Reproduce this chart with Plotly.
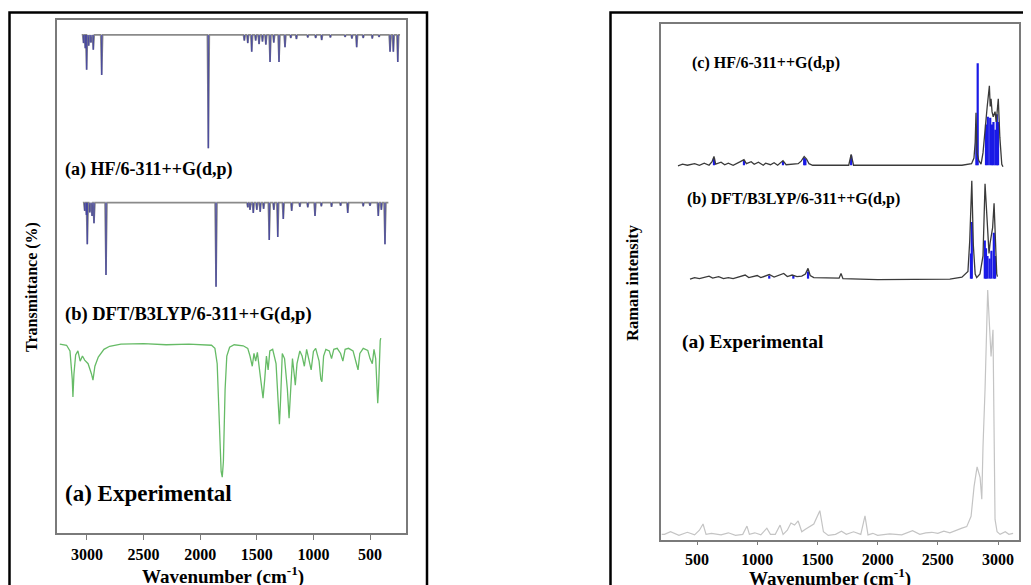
import plotly.graph_objects as go

# ---------------- Data ----------------
# Wavenumber ticks shared by both panels
tick_vals = [500, 1000, 1500, 2000, 2500, 3000]
tick_text = ["500", "1000", "1500", "2000", "2500", "3000"]

# ---- FT-IR panel (left), stacked transmittance units ----
# (a) HF/6-311++G(d,p) calculated IR: band positions and dip minima
ir_hf_freq = [3030, 3015, 3003, 2985, 2965, 2944, 2870, 1928, 1610, 1580, 1545, 1510,
              1480, 1450, 1420, 1383, 1350, 1304, 1251, 1200, 1150, 1050, 980, 927,
              850, 720, 660, 618, 560, 480, 420, 323, 294, 255]
ir_hf_tip = [95.5, 94.5, 90.3, 95.0, 95.6, 94.2, 89.3, 75.0, 96.0, 95.5, 93.8, 96.0,
             95.3, 95.8, 95.2, 91.8, 95.6, 91.8, 94.7, 96.5, 96.3, 96.6, 96.5, 96.1,
             96.6, 96.7, 96.4, 94.7, 96.5, 96.4, 96.7, 93.8, 93.8, 91.8]
ir_hf_base = 97.1
ir_hf_span = [3033, 235]

# (b) DFT/B3LYP/6-311++G(d,p) calculated IR
ir_dft_freq = [3020, 3005, 2997, 2975, 2955, 2938, 2832, 1860, 1580, 1560, 1531, 1500,
               1470, 1440, 1390, 1350, 1315, 1266, 1192, 1120, 1050, 986, 930, 840,
               760, 697, 560, 500, 427, 400, 368]
ir_dft_tip = [62.8, 62.0, 56.3, 62.5, 61.8, 60.4, 50.3, 48.0, 63.5, 63.0, 62.4, 63.0,
              62.6, 63.2, 57.1, 63.0, 57.7, 61.2, 62.8, 63.6, 63.5, 61.8, 63.7, 63.6,
              63.8, 62.4, 63.7, 63.8, 61.8, 63.0, 56.3]
ir_dft_base = 64.4
ir_dft_span = [3024, 338]

# (a) Experimental FT-IR
ir_exp_w = [3240, 3180, 3150, 3130, 3124, 3115, 3100, 3080, 3060, 3040, 3020, 2990,
            2960, 2947, 2930, 2900, 2850, 2800, 2700, 2500, 2300, 2100, 1900, 1870,
            1850, 1830, 1815, 1805, 1795, 1780, 1765, 1740, 1700, 1620, 1580, 1560,
            1540, 1525, 1510, 1495, 1470, 1455, 1445, 1430, 1415, 1400, 1385, 1360,
            1330, 1310, 1300, 1290, 1275, 1255, 1230, 1215, 1200, 1185, 1170, 1160,
            1145, 1120, 1100, 1080, 1060, 1040, 1020, 1000, 980, 950, 935, 925, 910,
            890, 860, 840, 820, 790, 760, 740, 720, 690, 650, 620, 606, 590, 560,
            520, 500, 480, 465, 450, 440, 432, 425, 418, 410, 405]
ir_exp_t = [36.8, 36.6, 35.5, 30.0, 26.5, 31.0, 34.7, 35.5, 33.5, 34.5, 33.7, 33.0,
            31.0, 29.8, 32.5, 34.3, 35.8, 36.4, 36.8, 36.9, 36.7, 36.8, 36.6, 36.0,
            33.0, 22.0, 12.0, 10.9, 14.0, 28.0, 34.5, 36.2, 36.7, 36.5, 36.0, 34.5,
            32.5, 35.0, 33.5, 35.2, 31.0, 28.0, 26.3, 30.0, 34.5, 31.8, 35.5, 35.8,
            33.0, 25.0, 21.2, 26.0, 35.0, 34.0, 28.0, 22.4, 28.0, 34.0, 31.0, 28.8,
            33.0, 35.5, 34.5, 32.5, 35.8, 34.0, 31.8, 35.4, 36.0, 33.5, 30.0, 29.5,
            34.5, 35.8, 35.5, 34.0, 35.8, 36.0, 35.0, 33.5, 35.8, 36.0, 35.5, 33.0,
            31.8, 35.0, 36.0, 35.6, 34.0, 33.0, 35.8, 34.0, 28.0, 25.3, 28.0, 35.5,
            37.5, 38.0]

# ---- FT-Raman panel (right), stacked intensity units ----
# (c) HF/6-311++G(d,p) calculated Raman: envelope and bands
ram_hf_env_w = [342, 380, 420, 480, 520, 560, 600, 625, 641, 655, 700, 730, 760, 800,
                860, 890, 910, 950, 975, 1010, 1050, 1070, 1110, 1140, 1170, 1214,
                1240, 1280, 1340, 1365, 1390, 1410, 1430, 1460, 1760, 1780, 1800,
                2700, 2780, 2800, 2810, 2817, 2825, 2840, 2859, 2875, 2892, 2910,
                2928, 2935, 2942, 2950, 2960, 2975, 2985, 3002, 3015, 3031, 3041]
ram_hf_env_i = [72.5, 72.8, 72.6, 72.9, 72.6, 73.0, 72.6, 73.3, 74.3, 72.8, 73.2, 72.7,
                73.0, 72.6, 73.3, 73.7, 72.9, 73.3, 72.8, 73.2, 72.6, 73.0, 72.7, 73.1,
                72.6, 73.5, 72.7, 72.8, 72.9, 73.4, 74.3, 73.8, 72.9, 72.6, 72.6, 74.7,
                72.6, 72.6, 72.9, 74.0, 77.0, 82.8, 75.0, 73.5, 72.8, 75.0, 80.0, 84.0,
                88.0, 84.0, 85.5, 83.0, 82.0, 83.0, 81.0, 85.5, 78.0, 72.8, 72.3]
ram_hf_stick_w = [641, 890, 1214, 1390, 1400, 1780, 2820, 2831, 2900, 2915, 2935, 2950,
                  2962, 2978, 2990, 3000]
ram_hf_stick_i = [74.0, 73.6, 73.3, 74.0, 73.8, 74.5, 80.0, 92.4, 80.5, 82.0, 81.8, 80.5,
                  81.0, 79.5, 82.5, 81.0]
ram_hf_base = 72.6

# (b) DFT/B3LYP/6-311++G(d,p) calculated Raman
ram_dft_env_w = [442, 480, 520, 560, 600, 630, 680, 720, 760, 800, 860, 900, 930, 970,
                 1000, 1030, 1060, 1100, 1140, 1180, 1220, 1250, 1290, 1330, 1370,
                 1400, 1422, 1440, 1470, 1680, 1696, 1712, 2000, 2600, 2700, 2750,
                 2765, 2782, 2795, 2810, 2823, 2850, 2875, 2892, 2906, 2918, 2925,
                 2934, 2945, 2955, 2967, 2980, 2989, 2995]
ram_dft_env_i = [50.5, 50.8, 50.6, 50.9, 51.1, 50.7, 51.0, 50.6, 50.8, 50.6, 51.0, 51.3,
                 50.8, 51.1, 51.2, 50.8, 51.1, 51.4, 50.9, 51.2, 51.6, 51.0, 51.3, 51.0,
                 51.1, 51.5, 52.6, 51.2, 50.8, 50.7, 51.6, 50.6, 50.4, 50.5, 50.9, 52.0,
                 58.0, 69.6, 57.0, 51.5, 50.8, 51.5, 55.0, 69.0, 62.5, 57.5, 55.5, 57.5,
                 59.5, 60.5, 65.2, 56.0, 51.5, 51.0]
ram_dft_stick_w = [1100, 1300, 1422, 2775, 2782, 2890, 2900, 2912, 2930, 2945, 2965, 2975]
ram_dft_stick_i = [51.2, 51.3, 52.0, 55.5, 61.6, 58.0, 56.5, 55.0, 54.5, 56.0, 59.5, 55.0]
ram_dft_base = 50.6

# (a) Experimental FT-Raman
ram_exp_w = [207, 230, 280, 350, 420, 480, 520, 550, 575, 620, 700, 760, 820, 880, 915,
             935, 980, 1030, 1080, 1110, 1150, 1190, 1215, 1250, 1280, 1310, 1340,
             1370, 1400, 1440, 1470, 1520, 1550, 1590, 1650, 1700, 1740, 1800, 1860,
             1895, 1920, 1960, 2000, 2100, 2200, 2290, 2350, 2400, 2450, 2500, 2550,
             2600, 2650, 2700, 2740, 2776, 2801, 2826, 2851, 2865, 2875, 2892, 2914,
             2929, 2942, 2958, 2975, 2992, 3017, 3060, 3090, 3125]
ram_exp_i = [1.0, 1.0, 1.5, 0.8, 1.4, 0.9, 1.8, 3.0, 1.0, 1.2, 0.9, 1.3, 0.8, 1.0, 2.6,
             1.0, 1.3, 0.9, 2.2, 1.0, 1.0, 2.8, 1.0, 1.8, 3.2, 2.8, 3.6, 1.5, 2.0, 2.6,
             3.0, 5.6, 1.5, 0.8, 1.0, 1.6, 1.0, 1.5, 1.0, 4.6, 0.9, 1.2, 0.8, 1.1, 0.9,
             1.7, 1.0, 1.3, 1.4, 1.2, 1.6, 1.3, 1.8, 2.2, 2.5, 4.5, 10.3, 14.1, 12.0,
             7.8, 18.0, 29.1, 48.4, 40.0, 35.5, 40.7, 3.9, 1.5, 1.0, 1.5, 1.0, 1.2]

# ---------------- Helpers ----------------
W, H = 1031, 585
OFF = 8  # the page body adds an 8px margin; compensate so marks land where intended


def px(x):
    return (x - OFF) / W


def py(y):
    return 1 - (y - OFF) / H


def stick_xy(freqs, tips, base):
    xs, ys = [], []
    for f, t in zip(freqs, tips):
        xs += [f, f, None]
        ys += [base, t, None]
    return xs, ys


def envelope_xy(freqs, tips, base, span, hw=9):
    pts = sorted(zip(freqs, tips), key=lambda p: -p[0])
    xs, ys = [span[0]], [base]
    for f, t in pts:
        xs += [f + hw, f, f - hw]
        ys += [base, t, base]
    xs.append(span[1])
    ys.append(base)
    return xs, ys


SERIF = "Liberation Serif"
fig = go.Figure()

# ---- left panel traces ----
for freq, tip, base, span in [(ir_hf_freq, ir_hf_tip, ir_hf_base, ir_hf_span),
                              (ir_dft_freq, ir_dft_tip, ir_dft_base, ir_dft_span)]:
    ex, ey = envelope_xy(freq, tip, base, span)
    fig.add_trace(go.Scatter(x=ex, y=ey, mode="lines", line=dict(color="#8a8a8a", width=1.6),
                             xaxis="x", yaxis="y", showlegend=False, hoverinfo="skip"))
    sx, sy = stick_xy(freq, tip, base)
    fig.add_trace(go.Scatter(x=sx, y=sy, mode="lines",
                             line=dict(color="rgba(45,45,170,0.65)", width=1.5),
                             xaxis="x", yaxis="y", showlegend=False, hoverinfo="skip"))

fig.add_trace(go.Scatter(x=ir_exp_w, y=ir_exp_t, mode="lines",
                         line=dict(color="#66bb66", width=1.3),
                         xaxis="x", yaxis="y", showlegend=False, hoverinfo="skip"))

# ---- right panel traces ----
for ew, ei, sw, si, base in [(ram_hf_env_w, ram_hf_env_i, ram_hf_stick_w, ram_hf_stick_i, ram_hf_base),
                             (ram_dft_env_w, ram_dft_env_i, ram_dft_stick_w, ram_dft_stick_i, ram_dft_base)]:
    sx, sy = stick_xy(sw, si, base)
    fig.add_trace(go.Scatter(x=sx, y=sy, mode="lines", line=dict(color="#1a1ae6", width=2.2),
                             xaxis="x2", yaxis="y2", showlegend=False, hoverinfo="skip"))
    fig.add_trace(go.Scatter(x=ew, y=ei, mode="lines", line=dict(color="#3a3a3a", width=1.3),
                             xaxis="x2", yaxis="y2", showlegend=False, hoverinfo="skip"))

fig.add_trace(go.Scatter(x=ram_exp_w, y=ram_exp_i, mode="lines",
                         line=dict(color="#c4c4c4", width=1.2),
                         xaxis="x2", yaxis="y2", showlegend=False, hoverinfo="skip"))

# ---------------- Layout ----------------
frame = dict(showline=True, mirror=True, linecolor="#7a7a7a", linewidth=1.8,
             showgrid=False, zeroline=False)
tickfont = dict(family=SERIF, size=16, color="black", weight="bold")

fig.update_layout(
    width=W, height=H, margin=dict(l=0, r=0, t=0, b=0),
    paper_bgcolor="white", plot_bgcolor="white", showlegend=False,
    xaxis=dict(domain=[px(57.3), px(405.7)], range=[3262, 185], tickvals=tick_vals,
               ticktext=tick_text, ticks="outside", ticklen=5, tickcolor="#7a7a7a",
               tickwidth=1.3, tickfont=tickfont, ticklabelstandoff=1, anchor="y", **frame),
    yaxis=dict(domain=[py(533), py(20)], range=[0, 100], showticklabels=False, ticks="",
               anchor="x", **frame),
    xaxis2=dict(domain=[px(661), px(1019)], range=[201, 3174], tickvals=tick_vals,
                ticktext=tick_text, ticks="outside", ticklen=4, tickcolor="#7a7a7a",
                tickwidth=1.3, tickfont=tickfont, ticklabelstandoff=0, anchor="y2", **frame),
    yaxis2=dict(domain=[py(539.5), py(24)], range=[0, 100], showticklabels=False, ticks="",
                anchor="x2", **frame),
)

# outer black boxes of the two panels
fig.add_shape(type="rect", xref="paper", yref="paper", x0=px(9.5), x1=px(427),
              y0=py(610), y1=py(12.5), line=dict(color="black", width=2.5), layer="above")
fig.add_shape(type="rect", xref="paper", yref="paper", x0=px(610.5), x1=px(1050),
              y0=py(610), y1=py(12.5), line=dict(color="black", width=2.5), layer="above")


def label(text, x, y, size, xanchor="left", angle=0):
    fig.add_annotation(text=text, xref="paper", yref="paper", x=px(x), y=py(y),
                       xanchor=xanchor, yanchor="middle", showarrow=False, textangle=angle,
                       font=dict(family=SERIF, size=size, color="black", weight="bold"))


# spectrum labels
label("(a) HF/6-311++G(d,p)", 63, 169, 18)
label("(b) DFT/B3LYP/6-311++G(d,p)", 63, 314, 18.5)
label("(a) Experimental", 63, 493, 23)
label("(c) HF/6-311++G(d,p)", 690, 63, 16)
label("(b) DFT/B3LYP/6-311++G(d,p)", 685, 199, 16)
label("(a) Experimental", 680, 342, 19.5)

# axis titles
label("Wavenumber (cm<sup>-1</sup>)", 223, 575, 19, xanchor="center")
label("Wavenumber (cm<sup>-1</sup>)", 830, 577, 19, xanchor="center")
label("Transmittance (%)", 32, 287, 16, xanchor="center", angle=-90)
label("Raman intensity", 632, 283, 16.5, xanchor="center", angle=-90)

fig.write_html("out.html")
